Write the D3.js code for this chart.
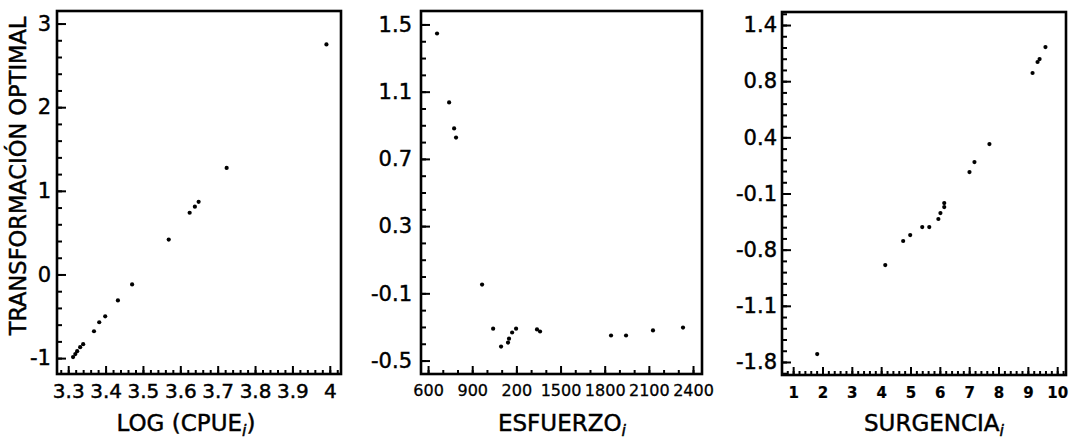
<!DOCTYPE html>
<html>
<head>
<meta charset="utf-8">
<script src="https://d3js.org/d3.v7.min.js"></script>
<style>
  body { margin: 0px; padding: 0px; background: #fff; }
  text { font-family: "DejaVu Sans", sans-serif; fill: #000; stroke: #000; stroke-width: 0.45px; }
</style>
</head>
<body>
<div id="svg_cont"></div>
<script>

// ---- data ----
// panel 1 : LOG (CPUE_i)
var cpue_x = [3.991, 3.724, 3.649, 3.639, 3.625, 3.569, 3.471, 3.433, 3.399, 3.383,
              3.369, 3.340, 3.332, 3.324, 3.319, 3.313];
var cpue_y = [2.75, 1.274, 0.869, 0.81, 0.738, 0.417, -0.119, -0.31, -0.5, -0.571,
              -0.679, -0.833, -0.869, -0.917, -0.952, -0.988];

// panel 2 : ESFUERZO_i
var esf_x = [661, 743, 777, 790, 967, 1042, 1096, 1143, 1150, 1171, 1198, 1340, 1361,
             1843, 1945, 2128, 2332];
var esf_y = [1.446, 1.036, 0.881, 0.827, -0.048, -0.31, -0.417, -0.393, -0.37, -0.333,
             -0.31, -0.315, -0.327, -0.351, -0.351, -0.321, -0.304];

// panel 3 : SURGENCIA_i
var surg_x = [9.60, 9.40, 9.33, 9.16, 7.69, 7.18, 7.01, 6.15, 6.15, 6.02, 5.95, 5.64,
              5.40, 4.99, 4.75, 4.14, 1.82];
var surg_y = [1.204, 1.097, 1.071, 0.973, 0.34, 0.18, 0.091, -0.185, -0.221, -0.274,
              -0.327, -0.399, -0.399, -0.47, -0.523, -0.737, -1.53];

// tick values and the labels as printed
var p1_x_ticks = [3.3, 3.4, 3.5, 3.6, 3.7, 3.8, 3.9, 4.0];
var p1_x_labels = ["3.3", "3.4", "3.5", "3.6", "3.7", "3.8", "3.9", "4"];
var p1_y_ticks = [-1, 0, 1, 2, 3];
var p1_y_labels = ["-1", "0", "1", "2", "3"];

var p2_x_ticks = [600, 900, 1200, 1500, 1800, 2100, 2400];
var p2_x_labels = ["600", "900", "200", "1500", "1800", "2100", "2400"];
var p2_y_ticks = [1.5, 1.1, 0.7, 0.3, -0.1, -0.5];
var p2_y_labels = ["1.5", "1.1", "0.7", "0.3", "-0.1", "-0.5"];

var p3_x_ticks = [1, 2, 3, 4, 5, 6, 7, 8, 9, 10];
var p3_x_labels = ["1", "2", "3", "4", "5", "6", "7", "8", "9", "10"];
var p3_y_ticks = [1.4, 0.9, 0.4, -0.1, -0.6, -1.1, -1.6];
var p3_y_labels = ["1.4", "0.8", "0.4", "-0.1", "-0.8", "-1.1", "-1.8"];

var w = 1074, h = 441;

var svg_main = d3.select("div#svg_cont")
  .append("svg")
  .attr("width", w)
  .attr("height", h);

function range_step(a, b, s) {
  var out = [];
  var n = Math.round((b - a) / s);
  for (let i = 0; i <= n; i++) out.push(+(a + i * s).toFixed(4));
  return out;
}

var panels = [
  { xs: cpue_x, ys: cpue_y, left: 57, right: 341, top: 11, bottom: 374,
    xdom: [3.27, 4.03], ydom: [-1.19, 3.15],
    xt: p1_x_ticks, xl: p1_x_labels, yt: p1_y_ticks, yl: p1_y_labels,
    xminor: range_step(3.28, 4.02, 0.02), yminor: range_step(-1.0, 3.0, 0.2),
    xfont: 20, xweight: "normal", xstroke: 0.45, xpad: 10, ypad: 6, title: "LOG (CPUE", tx: 186 },
  { xs: esf_x, ys: esf_y, left: 421, right: 702, top: 11, bottom: 374,
    xdom: [552, 2461], ydom: [-0.58, 1.58],
    xt: p2_x_ticks, xl: p2_x_labels, yt: p2_y_ticks, yl: p2_y_labels,
    xminor: range_step(600, 2400, 100), yminor: range_step(-0.5, 1.5, 0.1),
    xfont: 16, xweight: "normal", xstroke: 0.3, xpad: 11, ypad: 9, title: "ESFUERZO", tx: 562 },
  { xs: surg_x, ys: surg_y, left: 782, right: 1066, top: 12, bottom: 375,
    xdom: [0.62, 10.3], ydom: [-1.716, 1.516],
    xt: p3_x_ticks, xl: p3_x_labels, yt: p3_y_ticks, yl: p3_y_labels,
    xminor: range_step(0.8, 10.2, 0.2), yminor: range_step(-1.7, 1.5, 0.1),
    xfont: 15, xweight: "bold", xstroke: 0.2, xpad: 12, ypad: 5, title: "SURGENCIA", tx: 934 }
];

panels.forEach(function(p) {
  var x = d3.scaleLinear().domain(p.xdom).range([p.left, p.right]);
  var y = d3.scaleLinear().domain(p.ydom).range([p.bottom, p.top]);
  var g = svg_main.append("g");

  // minor ticks
  g.append("g")
    .attr("transform", "translate(0," + p.bottom + ")")
    .call(d3.axisBottom(x).tickValues(p.xminor).tickSize(-4).tickFormat(""))
    .call(s => s.select(".domain").remove());
  g.append("g")
    .attr("transform", "translate(" + p.left + ",0)")
    .call(d3.axisLeft(y).tickValues(p.yminor).tickSize(-5).tickFormat(""))
    .call(s => s.select(".domain").remove());

  // major ticks + labels
  var xa = g.append("g")
    .attr("transform", "translate(0," + p.bottom + ")")
    .call(d3.axisBottom(x).tickValues(p.xt).tickSize(-8).tickPadding(p.xpad)
      .tickFormat((d, i) => p.xl[i]));
  xa.select(".domain").remove();
  xa.selectAll("text")
    .style("font-size", p.xfont + "px")
    .style("font-weight", p.xweight)
    .style("stroke-width", p.xstroke + "px")
    .attr("fill", "#000");

  var ya = g.append("g")
    .attr("transform", "translate(" + p.left + ",0)")
    .call(d3.axisLeft(y).tickValues(p.yt).tickSize(-9).tickPadding(p.ypad)
      .tickFormat((d, i) => p.yl[i]));
  ya.select(".domain").remove();
  ya.selectAll("text")
    .style("font-size", "21px")
    .attr("fill", "#000");

  g.selectAll(".tick line").attr("stroke", "#000").attr("stroke-width", 2);

  // frame
  g.append("rect")
    .attr("x", p.left).attr("y", p.top)
    .attr("width", p.right - p.left).attr("height", p.bottom - p.top)
    .attr("fill", "none").attr("stroke", "#000").attr("stroke-width", 2.6);

  // points
  g.selectAll("circle.pt")
    .data(d3.range(p.xs.length))
    .enter().append("circle")
    .attr("class", "pt")
    .attr("cx", i => x(p.xs[i]))
    .attr("cy", i => y(p.ys[i]))
    .attr("r", 2.1)
    .attr("fill", "#000");

  // axis title with italic subscript i
  var t = g.append("text")
    .attr("x", p.tx).attr("y", 431)
    .attr("text-anchor", "middle")
    .style("font-size", "23px");
  t.append("tspan").text(p.title);
  t.append("tspan").text("i")
    .style("font-style", "italic").style("font-size", "16px")
    .attr("dy", 5);
  if (p.title == "LOG (CPUE") {
    t.append("tspan").text(")").attr("dy", -5);
  }
});

svg_main.append("text")
  .attr("transform", "translate(26,176) rotate(-90)")
  .attr("text-anchor", "middle")
  .style("font-size", "22.5px")
  .text("TRANSFORMACIÓN OPTIMAL");

</script>
</body>
</html>
